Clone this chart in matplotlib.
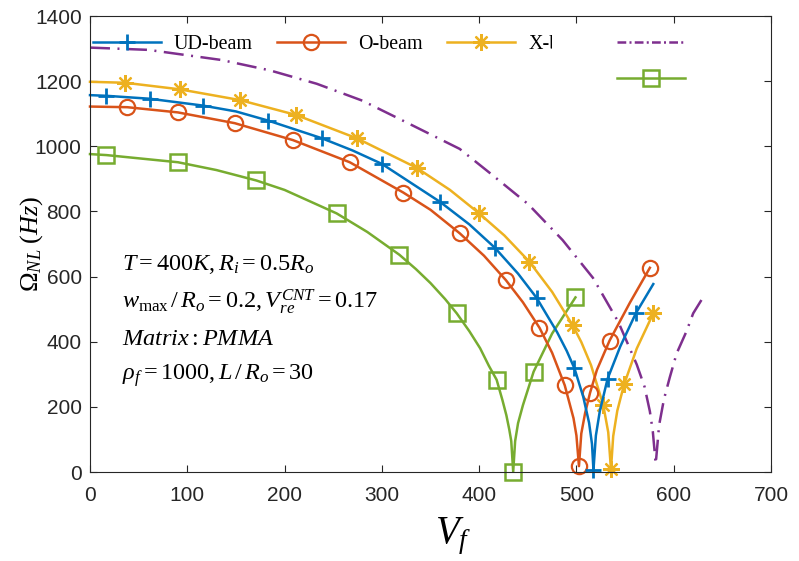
import matplotlib
matplotlib.use('Agg')
import matplotlib.pyplot as plt
from matplotlib.lines import Line2D
from matplotlib.transforms import Bbox

plt.rcParams['font.family'] = ['Liberation Sans', 'DejaVu Sans']
plt.rcParams['mathtext.fontset'] = 'custom'
plt.rcParams['mathtext.rm'] = 'Liberation Serif'
plt.rcParams['mathtext.it'] = 'Liberation Serif:italic'
plt.rcParams['mathtext.bf'] = 'Liberation Serif:bold'

# values (V_f, Omega_NL in Hz)
ud_v = [0, 16.8, 61.4, 116, 150, 183, 238, 270, 300, 360, 390, 416, 440, 459, 480, 490, 498,
        507, 513, 516, 517.5, 520, 524, 532, 545, 561, 579]
ud_w = [1157, 1155, 1146, 1125, 1107, 1079, 1025, 987, 946, 829, 760, 689, 609, 535, 430, 372, 318,
        231, 151, 86, 6, 112, 186, 286, 385, 487, 577]
ud_mark = [1, 2, 3, 5, 6, 8, 9, 11, 13, 16, 20, 23, 25]

o_v = [0, 38.3, 90.4, 148.7, 208.6, 267, 322, 350, 380, 405, 427.5, 445, 462, 475, 488, 497, 500,
       502.6, 505, 509, 514, 521, 534, 555, 575.5]
o_w = [1122, 1120, 1104, 1071, 1019, 951, 858, 805, 733, 664, 589, 521, 443, 366, 266, 165, 112,
       18, 118, 182, 243, 313, 403, 520, 627]
o_mark = [1, 2, 3, 4, 5, 6, 8, 10, 12, 14, 17, 20, 22, 24]

x_v = [0, 36.3, 92, 154, 212, 274.7, 335.7, 370, 400, 426, 451.5, 475, 496, 505, 515, 527.6,
       532.7, 535.5, 537.8, 542, 549, 562, 579]
x_w = [1198, 1195, 1175, 1142, 1096, 1024, 934, 866, 794, 726, 646, 553, 451, 399, 328, 205,
       122, 8, 110, 188, 269, 379, 487]
x_mark = [1, 2, 3, 4, 5, 6, 8, 10, 12, 15, 17, 20, 22]

g_v = [0, 16.8, 90.4, 130, 171, 200, 253.5, 285, 318, 335, 350, 365, 377, 390, 401, 410, 418,
       424, 428, 431, 433, 435, 437, 440, 445, 456, 475, 499]
g_w = [976, 973, 951, 927, 895, 866, 794, 737, 667, 623, 580, 531, 487, 432, 380, 326, 283,
       220, 174, 130, 95, 1, 95, 150, 205, 308, 425, 536]
g_mark = [1, 2, 4, 6, 8, 12, 16, 21, 25, 27]

pu_v = [0, 60, 135, 185, 233, 280, 325.5, 380, 411, 450.5, 485.8, 517, 543, 562, 570, 575.5,
        578.5, 581.5, 585, 590, 596, 603, 613, 620, 628.5]
pu_w = [1303, 1296, 1265, 1233, 1192, 1140, 1073, 992, 918, 822, 712, 596, 461, 330, 262, 186,
        125, 25, 144, 224, 291, 364, 431, 487, 528]

blue = '#0072BD'
orange = '#D95319'
yellow = '#EDB120'
purple = '#7E2F8E'
green = '#77AC30'
star = (8, 2, 0)
lw = 1.8

fig = plt.figure(figsize=(7.99, 5.61), dpi=100)
ax = fig.add_axes([90 / 799, 89 / 561, 681 / 799, 456 / 561])

ax.plot(pu_v, pu_w, color=purple, lw=lw, ls=(0, (8, 3, 0.8, 3)))
ax.plot(g_v, g_w, color=green, lw=lw, marker='s', ms=11, mfc='none', mew=1.8,
        markevery=g_mark, clip_on=False)
ax.plot(x_v, x_w, color=yellow, lw=lw, marker=star, ms=12, mew=1.6,
        markevery=x_mark, clip_on=False)
ax.plot(o_v, o_w, color=orange, lw=lw, marker='o', ms=11, mfc='none', mew=1.6,
        markevery=o_mark, clip_on=False)
ax.plot(ud_v, ud_w, color=blue, lw=lw, marker='+', ms=12, mew=2,
        markevery=ud_mark, clip_on=False)

ax.set_xlim(0, 700)
ax.set_ylim(0, 1400)
ax.set_xticks(range(0, 701, 100))
ax.set_yticks(range(0, 1401, 200))
ax.tick_params(direction='in', length=5, width=0.8, top=True, right=True,
               labelsize=15, colors='#262626', pad=6)
ax.tick_params(axis='x', pad=10)
for s in ax.spines.values():
    s.set_color('#262626')
    s.set_linewidth(0.8)

ax.set_xlabel(r'$V_f$', fontsize=28)
ax.xaxis.set_label_coords(0.533, -0.095)
ax.set_ylabel(r'$\Omega_{NL}\;(Hz)$', fontsize=19)
ax.yaxis.set_label_coords(-0.066, 0.5)

notes = [r'$T=400K,R_i=0.5R_o$',
         r'$w_{\max}\,/\,R_o=0.2,V_{re}^{CNT}=0.17$',
         r'$Matrix:PMMA$',
         r'$\rho_f=1000,L\,/\,R_o=30$']
note_y = [270, 308, 345, 380]
for t, yy in zip(notes, note_y):
    ax.text(122 / 799, 1 - yy / 561, t, transform=fig.transFigure, fontsize=17.5,
            va='baseline', ha='left')

# legend (last two labels are not visible in the original)
def h(c, m, **kw):
    return Line2D([], [], color=c, marker=m, lw=lw, **kw)

blank = Line2D([], [], ls='none')
handles = [h(blue, '+', ms=12, mew=2), blank,
           h(orange, 'o', ms=11, mfc='none', mew=1.6), blank,
           h(yellow, star, ms=12, mew=1.6), blank,
           Line2D([], [], color=purple, lw=lw, ls=(0, (3.5, 1.3, 0.8, 1.3))),
           h(green, 's', ms=11, mfc='none', mew=1.8)]
labels = ['UD-beam', ' ', 'O-beam', ' ', 'X-beam', ' ', ' ', ' ']
leg = ax.legend(handles, labels, ncol=4, loc='upper left', frameon=False,
                bbox_to_anchor=(93 / 799, 1 - 35 / 561), bbox_transform=fig.transFigure,
                borderpad=0, borderaxespad=0, handlelength=3.4, handletextpad=0.65,
                columnspacing=1.22, labelspacing=0.85, numpoints=1,
                prop={'family': 'Liberation Serif', 'size': 14.4})

# the X-beam label is cut off in the original
fig.canvas.draw()
for t in leg.get_texts():
    if t.get_text() == 'X-beam':
        bb = t.get_window_extent()
        t.set_clip_box(Bbox([[bb.x0 - 2, bb.y0 - 5], [bb.x0 + 24, bb.y1 + 5]]))
        t.set_clip_on(True)

fig.savefig('out.png', dpi=100)
